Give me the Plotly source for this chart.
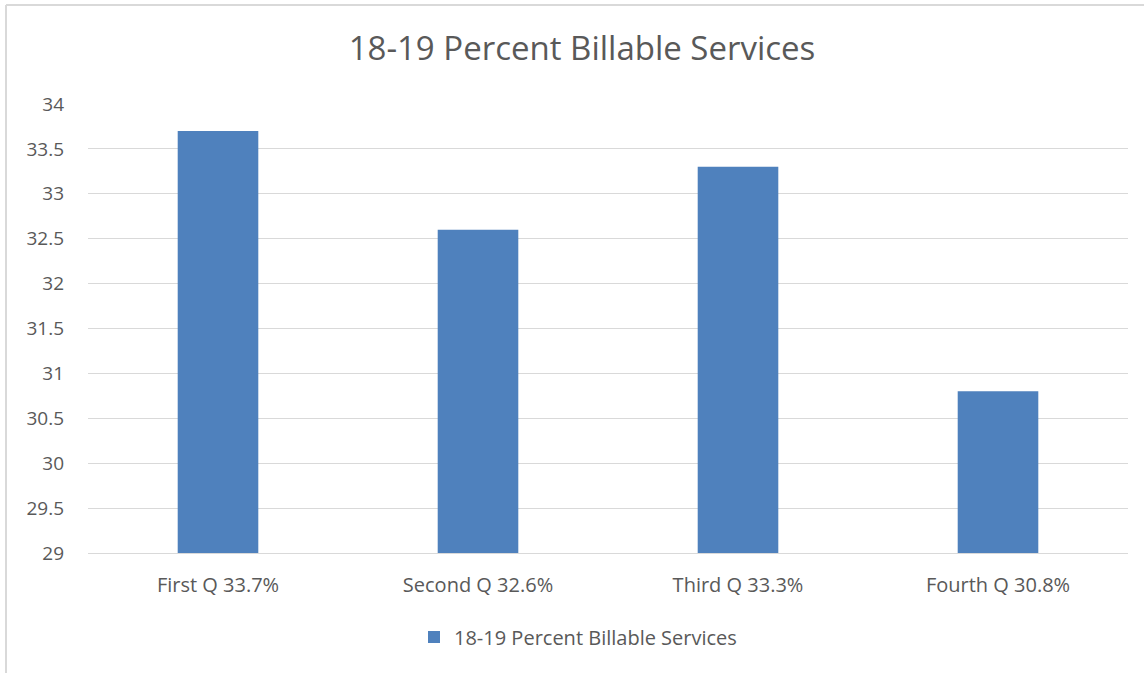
import plotly.graph_objects as go

categories = ["First Q 33.7%", "Second Q 32.6%", "Third Q 33.3%", "Fourth Q 30.8%"]
values = [33.7, 32.6, 33.3, 30.8]
series_name = "18-19 Percent Billable Services"
title_text = "18-19 Percent Billable Services"

W, H = 1144, 673
L, R, T, B = 88, 16, 104, 120
pw = W - L - R
ph = H - T - B

def px_x(px):
    return (px - L) / pw

def px_y(py):
    return (H - B - py) / ph

font_family = "Open Sans, Noto Sans, sans-serif"
txt = "#595959"

fig = go.Figure()
fig.add_trace(go.Bar(
    x=categories, y=values, name=series_name,
    marker=dict(color="#4f81bd", line=dict(width=0)),
    width=0.31, showlegend=True,
))

fig.update_layout(
    width=W, height=H,
    margin=dict(l=L, r=R, t=T, b=B),
    paper_bgcolor="white", plot_bgcolor="white",
    font=dict(family=font_family, color=txt, size=20),
    title=dict(text=title_text, x=px_x(582), xref="paper", xanchor="center",
               y=1 - 48 / H, yanchor="middle",
               font=dict(size=33, color=txt, family=font_family)),
    showlegend=True,
    legend=dict(orientation="h", x=px_x(414), xanchor="left",
                y=px_y(637), yanchor="middle",
                font=dict(size=20, color=txt), bgcolor="rgba(0,0,0,0)"),
)
fig.update_yaxes(range=[29, 34], dtick=0.5, tick0=29, showgrid=True,
                 gridcolor="#d9d9d9", gridwidth=1, zeroline=False,
                 showline=False, ticks="", ticklabelstandoff=23,
                 tickfont=dict(size=19, color=txt))
fig.update_xaxes(showgrid=False, showline=True, linecolor="#d9d9d9", linewidth=1,
                 ticks="", ticklabelstandoff=14,
                 tickfont=dict(size=20, color=txt))

# outer chart border (only top and left visible in frame)
fig.add_shape(type="line", xref="paper", yref="paper",
              x0=px_x(6), x1=px_x(1200), y0=px_y(5), y1=px_y(5),
              line=dict(color="#d9d9d9", width=2))
fig.add_shape(type="line", xref="paper", yref="paper",
              x0=px_x(6), x1=px_x(6), y0=px_y(5), y1=px_y(700),
              line=dict(color="#d9d9d9", width=2))

fig.write_html("out.html", config={"displayModeBar": False},
               post_script="document.body.style.margin='0';")
